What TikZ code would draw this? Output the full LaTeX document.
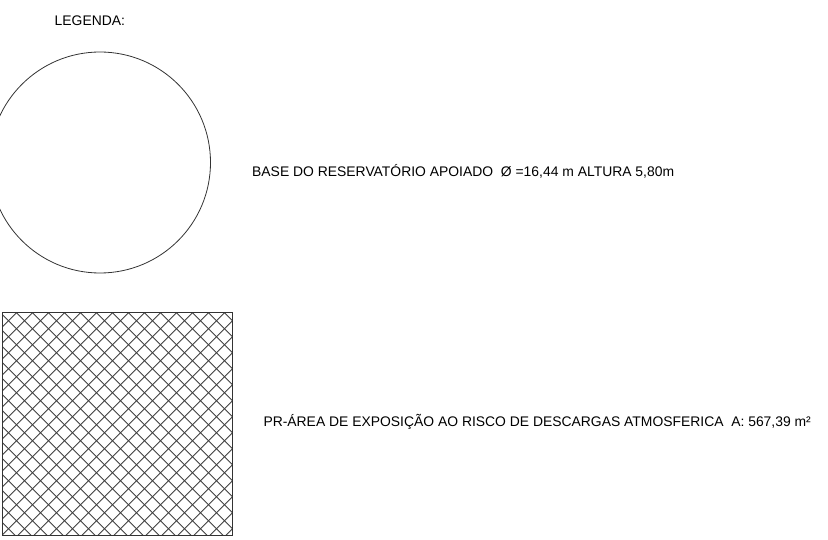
\documentclass[tikz,border=0pt]{standalone}
\usepackage{fontspec}
\setmainfont{Liberation Sans}
\begin{document}
\begin{tikzpicture}[x=1pt,y=-1pt,
  lbl/.style={anchor=base west,inner sep=0pt,font=\fontsize{13.9}{16}\selectfont},
  hatchline/.style={line width=0.9pt,black!75}]
\useasboundingbox (0,0) rectangle (828,540);
\node[lbl] (legenda) at (54.5,25.7) {LEGENDA:};
\begin{scope}
\clip (0,0) rectangle (828,540);
\draw[line width=0.8pt,black!80] (100,162.5) circle[radius=110.5];
\end{scope}
\node[lbl] (base) at (252,176.7) {BASE DO RESERVATÓRIO APOIADO \ Ø =16,44 m ALTURA 5,80m};
\begin{scope}
\clip (2.5,312.7) rectangle (232.3,535.5);
\foreach \k in {-16,...,32} {
  \draw[hatchline] ({16.5+16*\k},312.7) -- ++(260,260);
  \draw[hatchline] ({16.5+16*\k},312.7) -- ++(-260,260);
}
\end{scope}
\draw[line width=1.1pt,black!80] (2.5,312.7) rectangle (232.3,535.5);
\node[lbl] (area) at (263.3,426.7) {PR-ÁREA DE EXPOSIÇÃO AO RISCO DE DESCARGAS ATMOSFERICA \ A: 567,39 m²};
\end{tikzpicture}
\end{document}
